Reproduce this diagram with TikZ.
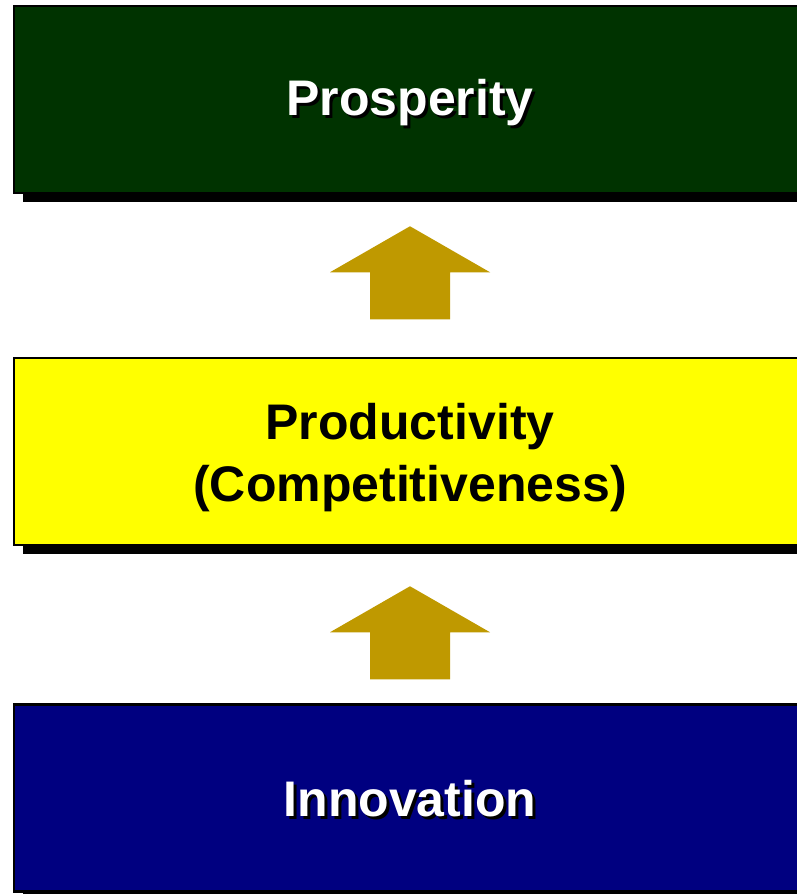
\documentclass[tikz,border=0pt]{standalone}
\usepackage{fontspec}
\setmainfont{Liberation Sans}
\usetikzlibrary{shadows,calc}
\definecolor{pgreen}{RGB}{0,51,0}
\definecolor{pyellow}{RGB}{255,255,0}
\definecolor{pnavy}{RGB}{0,0,128}
\definecolor{arrowgold}{RGB}{191,153,0}
\newcommand{\shadowtext}[1]{\rlap{\hspace{3pt}\raisebox{-3pt}{\color{black}#1}}#1}
\tikzset{
  levelbox/.style={draw=black, line width=2.5pt, minimum width=792pt, minimum height=187pt,
    inner sep=0pt, drop shadow={shadow xshift=9pt, shadow yshift=-9pt, fill=black, opacity=1}},
  boxtext/.style={font=\fontsize{50}{62}\selectfont\bfseries, align=center, inner sep=0pt},
  blockarrow/.style={fill=arrowgold}
}
\begin{document}
\begin{tikzpicture}[x=1pt,y=-1pt]
\useasboundingbox (0,0) rectangle (796,894);
% boxes
\node[levelbox, fill=pgreen] (pros) at (410,99.5) {};
\node[levelbox, fill=pyellow] (prod) at (410,451.5) {};
\node[levelbox, fill=pnavy] (inno) at (410,798) {};
% texts
\node[boxtext, text=white] (prostext) at ($(pros.center)+(0,5)$) {\shadowtext{Prosperity}};
\node[boxtext, text=black] (prodtext) at ($(prod.center)+(0,6)$) {Productivity\\(Competitiveness)};
\node[boxtext, text=white] (innotext) at ($(inno.center)+(0,2)$) {\shadowtext{Innovation}};
% arrows
\coordinate (a1) at ($(pros.south)+(0,32)$);
\fill[blockarrow] (a1) -- ++(80,46) -- ++(-40,0) -- ++(0,47) -- ++(-80,0) -- ++(0,-47) -- ++(-40,0) -- cycle;
\coordinate (a2) at ($(prod.south)+(0,40)$);
\fill[blockarrow] (a2) -- ++(80,46) -- ++(-40,0) -- ++(0,47) -- ++(-80,0) -- ++(0,-47) -- ++(-40,0) -- cycle;
\end{tikzpicture}
\end{document}
